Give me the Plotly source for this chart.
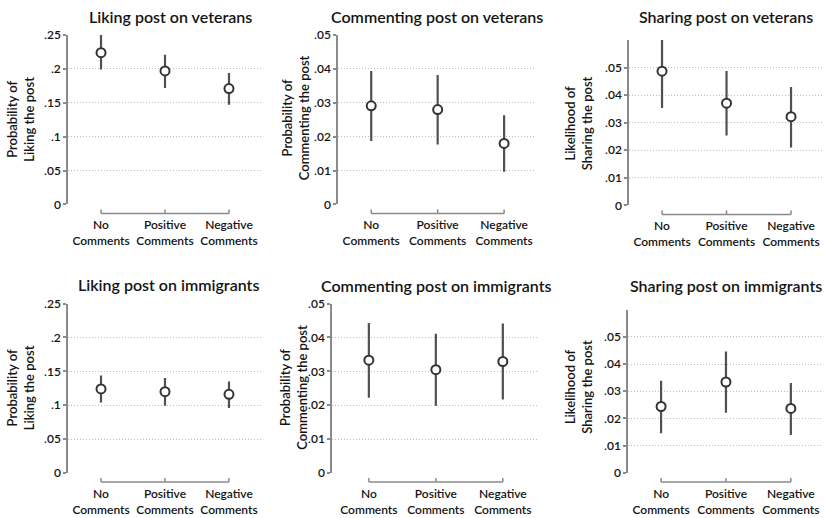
import plotly.graph_objects as go

W, H = 824, 518

categories = ["No<br>Comments", "Positive<br>Comments", "Negative<br>Comments"]
cat_pos = [1, 2, 3]

titles = ["Liking post on veterans", "Commenting post on veterans", "Sharing post on veterans",
          "Liking post on immigrants", "Commenting post on immigrants", "Sharing post on immigrants"]
ytitles = ["Probability of<br>Liking the post", "Probability of<br>Commenting the post",
           "Likelihood of<br>Sharing the post"] * 2

vet_like_est = [0.224, 0.197, 0.171]
vet_like_lo = [0.199, 0.172, 0.147]
vet_like_hi = [0.250, 0.221, 0.194]

vet_comm_est = [0.0291, 0.0280, 0.0180]
vet_comm_lo = [0.0187, 0.0177, 0.0096]
vet_comm_hi = [0.0394, 0.0382, 0.0263]

vet_share_est = [0.0487, 0.0371, 0.0322]
vet_share_lo = [0.0353, 0.0254, 0.0210]
vet_share_hi = [0.0620, 0.0488, 0.0430]

imm_like_est = [0.124, 0.120, 0.116]
imm_like_lo = [0.104, 0.099, 0.096]
imm_like_hi = [0.144, 0.140, 0.135]

imm_comm_est = [0.0333, 0.0305, 0.0329]
imm_comm_lo = [0.0222, 0.0198, 0.0217]
imm_comm_hi = [0.0443, 0.0411, 0.0441]

imm_share_est = [0.0244, 0.0334, 0.0237]
imm_share_lo = [0.0146, 0.0221, 0.0139]
imm_share_hi = [0.0339, 0.0446, 0.0330]

like_ticks = [0, 0.05, 0.1, 0.15, 0.2, 0.25]
like_ticktext = ["0", ".05", ".1", ".15", ".2", ".25"]
comm_ticks = [0, 0.01, 0.02, 0.03, 0.04, 0.05]
comm_ticktext = ["0", ".01", ".02", ".03", ".04", ".05"]

series = [
    (vet_like_est, vet_like_lo, vet_like_hi, like_ticks, like_ticktext, 0.25),
    (vet_comm_est, vet_comm_lo, vet_comm_hi, comm_ticks, comm_ticktext, 0.05),
    (vet_share_est, vet_share_lo, vet_share_hi, comm_ticks, comm_ticktext, 0.06),
    (imm_like_est, imm_like_lo, imm_like_hi, like_ticks, like_ticktext, 0.25),
    (imm_comm_est, imm_comm_lo, imm_comm_hi, comm_ticks, comm_ticktext, 0.05),
    (imm_share_est, imm_share_lo, imm_share_hi, comm_ticks, comm_ticktext, 0.06),
]

# layout (pixels): x-left, x-right, y-top(of range max), y-bottom(zero), x-range
panels = [
    dict(x0=68, x1=262, yt=35, yb=204, xr=[0.484, 3.516], tx=170, ty=16, ax=20.5, ay=119),
    dict(x0=338, x1=536, yt=35, yb=204, xr=[0.50, 3.48], tx=437, ty=16, ax=295, ay=118),
    dict(x0=629, x1=822, yt=40, yb=205, xr=[0.488, 3.48], tx=726, ty=16, ax=578, ay=123),
    dict(x0=68, x1=262, yt=303, yb=472, xr=[0.484, 3.516], tx=168, ty=284, ax=20.5, ay=387),
    dict(x0=332, x1=537, yt=303, yb=472, xr=[0.45, 3.51], tx=436, ty=285, ax=294, ay=387),
    dict(x0=628, x1=822, yt=309, yb=472, xr=[0.49, 3.48], tx=726, ty=285, ax=579, ay=386),
]

# vertical pixel -> paper mapping (plot area effectively rendered 8..510)
Y_OFF, H_EFF = 8, 502


def py(y):
    return 1 - (y - Y_OFF) / H_EFF


FONT = "Lato"
TXT = "#141414"
AXIS_COL = "#8a8a8a"
fig = go.Figure()
shapes = []
annotations = []

for i, (p, s) in enumerate(zip(panels, series)):
    est, lo, hi, tv, tt, ymax = s
    n = i + 1
    xa = "x" if n == 1 else f"x{n}"
    ya = "y" if n == 1 else f"y{n}"
    fig.add_trace(go.Scatter(
        x=cat_pos, y=est, xaxis=xa, yaxis=ya, mode="markers",
        cliponaxis=False, showlegend=False, hoverinfo="skip",
        marker=dict(size=9, color="white", line=dict(color="#333333", width=2)),
        error_y=dict(type="data", symmetric=False,
                     array=[h - e for h, e in zip(hi, est)],
                     arrayminus=[e - l for e, l in zip(est, lo)],
                     color="#505050", thickness=2.2, width=0),
    ))
    xd = [p["x0"] / W, p["x1"] / W]
    yd = [py(p["yb"]), py(p["yt"])]
    xkey = "xaxis" if n == 1 else f"xaxis{n}"
    ykey = "yaxis" if n == 1 else f"yaxis{n}"
    fig.update_layout(**{
        xkey: dict(domain=xd, anchor=ya, range=p["xr"], tickmode="array",
                   tickvals=cat_pos, ticktext=categories, showgrid=False,
                   zeroline=False, showline=False, ticks="",
                   ticklabelstandoff=12,
                   tickfont=dict(family=FONT, size=12, color=TXT, weight=600)),
        ykey: dict(domain=yd, anchor=xa, range=[0, ymax], tickmode="array",
                   tickvals=tv, ticktext=tt, showgrid=True, gridcolor="#bdbdbd",
                   griddash="1px,2px", gridwidth=1, zeroline=False, showline=True,
                   linecolor=AXIS_COL, linewidth=1.5, ticks="outside", ticklen=3,
                   tickcolor=AXIS_COL, tickwidth=1.5,
                   tickfont=dict(family=FONT, size=12, color=TXT, weight=600)),
    })
    # x-axis bracket below plot
    yline = py(p["yb"] + 9)
    ytick = py(p["yb"] + 5)
    shapes.append(dict(type="line", xref=xa, yref="paper", x0=1, x1=3, y0=yline, y1=yline,
                       line=dict(color=AXIS_COL, width=1.5)))
    for c in cat_pos:
        shapes.append(dict(type="line", xref=xa, yref="paper", x0=c, x1=c, y0=yline, y1=ytick,
                           line=dict(color=AXIS_COL, width=1.5)))
    annotations.append(dict(text=titles[i], xref="paper", yref="paper",
                            x=p["tx"] / W, y=py(p["ty"]), showarrow=False,
                            xanchor="center", yanchor="middle",
                            font=dict(family=FONT, size=16, color=TXT, weight=600)))
    annotations.append(dict(text=ytitles[i], xref="paper", yref="paper",
                            x=p["ax"] / W, y=py(p["ay"]), showarrow=False,
                            xanchor="center", yanchor="middle", textangle=-90,
                            font=dict(family=FONT, size=13, color=TXT, weight=600)))

fig.update_layout(width=W, height=H, margin=dict(l=0, r=0, t=0, b=0),
                  paper_bgcolor="white", plot_bgcolor="white",
                  shapes=shapes, annotations=annotations)
fig.write_html("out.html")
